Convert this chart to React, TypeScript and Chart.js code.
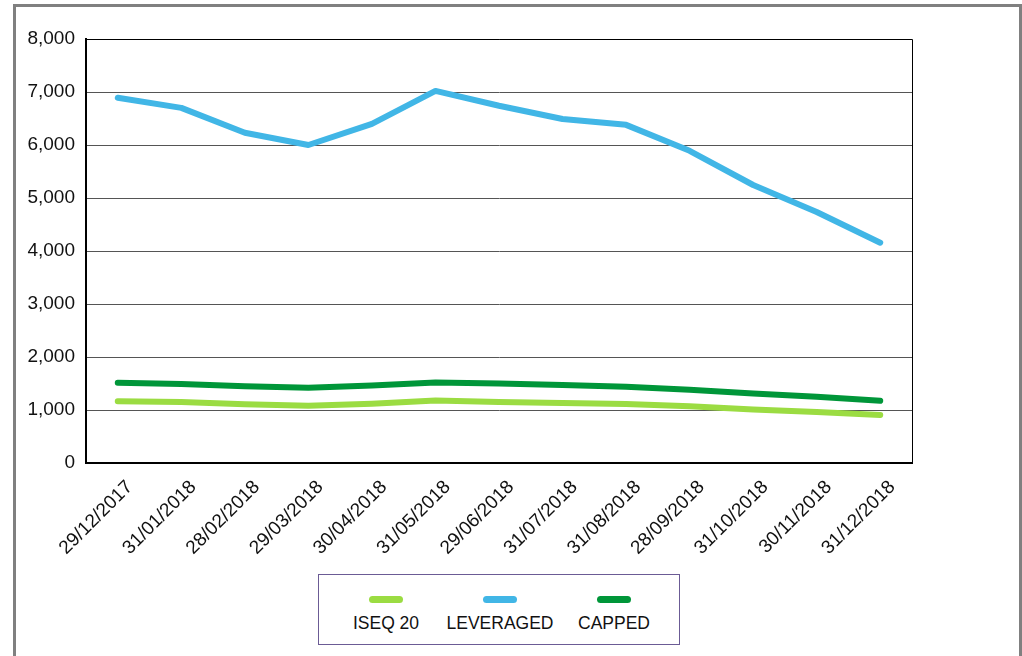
import React, { useEffect, useRef } from "react";
import { Chart, registerables } from "chart.js";

Chart.register(...registerables);

const categories = [
  "29/12/2017", "31/01/2018", "28/02/2018", "29/03/2018", "30/04/2018", "31/05/2018",
  "29/06/2018", "31/07/2018", "31/08/2018", "28/09/2018", "31/10/2018", "30/11/2018", "31/12/2018",
];
const iseq20 = [1165, 1150, 1110, 1080, 1120, 1180, 1150, 1130, 1115, 1070, 1010, 960, 906];
const leveraged = [6890, 6700, 6230, 6000, 6400, 7020, 6740, 6490, 6380, 5890, 5245, 4736, 4157];
const capped = [1515, 1490, 1450, 1420, 1460, 1520, 1500, 1470, 1440, 1380, 1310, 1250, 1175];
const seriesNames = ["ISEQ 20", "LEVERAGED", "CAPPED"];
const seriesColors = ["#9bdc42", "#41b6e6", "#009639"];
const yTicks = [0, 1000, 2000, 3000, 4000, 5000, 6000, 7000, 8000];

const FONT = "'Liberation Sans', Arial, sans-serif";

const outlinePlugin = {
  id: "outline",
  beforeDatasetsDraw(chart: any) {
    const { ctx, chartArea } = chart;
    ctx.save();
    ctx.strokeStyle = "#000";
    ctx.lineWidth = 1;
    ctx.beginPath();
    ctx.moveTo(chartArea.left, chartArea.top + 0.5);
    ctx.lineTo(chartArea.right + 0.5, chartArea.top + 0.5);
    ctx.lineTo(chartArea.right + 0.5, chartArea.bottom);
    ctx.stroke();
    ctx.restore();
  },
};

export default function App() {
  const ref = useRef<HTMLCanvasElement | null>(null);
  useEffect(() => {
    if (!ref.current) return;
    const data = [iseq20, leveraged, capped];
    const chart = new Chart(ref.current, {
      type: "line",
      data: {
        labels: categories,
        datasets: seriesNames.map((n, i) => ({
          label: n,
          data: data[i],
          borderColor: seriesColors[i],
          backgroundColor: seriesColors[i],
          borderWidth: 6,
          pointRadius: 0,
          tension: 0,
          borderCapStyle: "round",
          borderJoinStyle: "round",
          order: i === 1 ? 0 : 1,
        })),
      },
      options: {
        animation: false,
        responsive: false,
        maintainAspectRatio: false,
        layout: { padding: { left: 0, top: 39, right: 110, bottom: 0 } },
        plugins: { legend: { display: false }, tooltip: { enabled: false }, title: { display: false } },
        scales: {
          x: {
            offset: true,
            grid: { display: false, drawTicks: false },
            border: { color: "#000", width: 2 },
            ticks: {
              maxRotation: 45,
              minRotation: 45,
              color: "#111",
              font: { family: FONT, size: 19 },
              padding: 13,
              labelOffset: 12,
              autoSkip: false,
            },
            afterFit: (s: any) => { s.height = 193; },
          },
          y: {
            min: 0,
            max: 8000,
            afterBuildTicks: (s: any) => { s.ticks = yTicks.map((v) => ({ value: v })); },
            grid: { color: "#555", lineWidth: 1, drawTicks: false },
            border: { color: "#000", width: 2 },
            ticks: {
              color: "#111",
              font: { family: FONT, size: 19 },
              padding: 11,
              callback: (v: any) => Number(v).toLocaleString("en-US"),
            },
            afterFit: (s: any) => { s.width = 86; },
          },
        },
      },
      plugins: [outlinePlugin],
    } as any);
    return () => chart.destroy();
  }, []);

  return (
    <div style={{ position: "absolute", left: 0, top: 0, width: 1022, height: 656, overflow: "hidden", background: "#fff", fontFamily: FONT }}>
      <div style={{ position: "absolute", left: 13, top: 4, width: 1009, height: 720, border: "3px solid #808080", boxSizing: "border-box" }} />
      <canvas ref={ref} width={1022} height={656} style={{ position: "absolute", left: 0, top: 0, width: 1022, height: 656 }} />
      <div style={{ position: "absolute", left: 318, top: 574, width: 362, height: 71, border: "1px solid #6b5b95", boxSizing: "border-box", background: "#fff" }}>
        {seriesNames.map((n, i) => (
          <div key={n} style={{ position: "absolute", left: 67 + i * 114 - 60, top: 0, width: 120, height: 70 }}>
            <div style={{ position: "absolute", left: 43, top: 21, width: 34, height: 7, borderRadius: 4, background: seriesColors[i] }} />
            <div style={{ position: "absolute", left: 0, top: 38, width: 120, textAlign: "center", fontSize: 17.5, color: "#111", lineHeight: "20px" }}>{n}</div>
          </div>
        ))}
      </div>
    </div>
  );
}
